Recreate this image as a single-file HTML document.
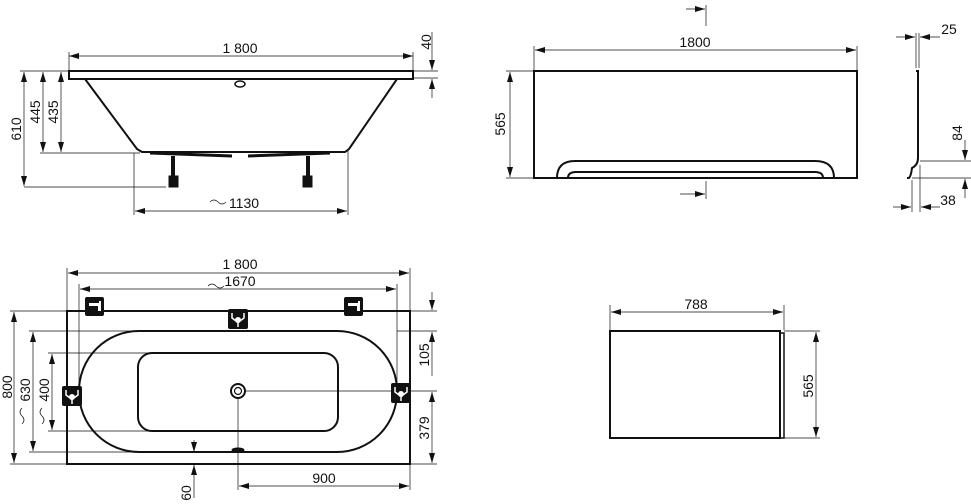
<!DOCTYPE html>
<html><head><meta charset="utf-8"><style>
html,body{margin:0;padding:0;background:#fff;}
svg{display:block}
text{font-family:"Liberation Sans Narrow","Liberation Sans",sans-serif;font-size:14px;fill:#111}
</style></head><body>
<svg width="971" height="504" viewBox="0 0 971 504" xmlns="http://www.w3.org/2000/svg">
<defs>
<marker id="a" viewBox="0 0 10 6" refX="10" refY="3" markerWidth="10" markerHeight="6" orient="auto-start-reverse" markerUnits="userSpaceOnUse"><path d="M0,0 L10,3 L0,6 z" fill="#111"/></marker>
<g id="tap"><rect x="0" y="0" width="19" height="19" rx="2" fill="#111"/><path d="M4,6 h10 v-2 h2 v10 h-3 v-5 h-9z" fill="#fff"/></g>
<g id="valve"><rect x="0" y="0" width="20" height="20" rx="2" fill="#111"/><path d="M4,4 v5 l4,3 M16,4 v5 l-4,3 M10,13 v5" stroke="#fff" stroke-width="1.5" fill="none"/><circle cx="10" cy="11" r="3" fill="#fff"/></g>
</defs>
<g stroke="#111" fill="none">
<rect x="69" y="71" width="344" height="8" stroke-width="2"/>
<path d="M85,79 L137,149 L142,152 L345,152 L349,149 L397,79" stroke-width="2"/>
<ellipse cx="240" cy="84" rx="5" ry="3" stroke-width="1.5"/>
<path d="M150,153 L232,156 M248,156 L330,153" stroke-width="3"/>
<path d="M173,156 v22 M308,156 v22" stroke-width="4"/>
<rect x="169" y="176" width="9" height="11" fill="#111"/><rect x="303" y="176" width="9" height="11" fill="#111"/>
<g stroke-width="0.7">
<path d="M69,52 V70 M413,52 V70"/>
<line x1="69" y1="56" x2="413" y2="56" marker-start="url(#a)" marker-end="url(#a)"/>
<path d="M20,71 H69 M40,153 H140 M24,187 H166"/>
<line x1="24" y1="72" x2="24" y2="186" marker-start="url(#a)" marker-end="url(#a)"/>
<line x1="43" y1="72" x2="43" y2="152" marker-start="url(#a)" marker-end="url(#a)"/>
<line x1="61" y1="72" x2="61" y2="152" marker-start="url(#a)" marker-end="url(#a)"/>
<path d="M134,153 V215 M348,150 V215"/>
<line x1="135" y1="211" x2="347" y2="211" marker-start="url(#a)" marker-end="url(#a)"/>
<path d="M413,71 H438 M413,78 H438"/>
<line x1="432" y1="32" x2="432" y2="70" marker-end="url(#a)"/>
<line x1="432" y1="98" x2="432" y2="79" marker-end="url(#a)"/>
<path d="M210,202 q4,-4 8,0 q4,4 8,0"/>
</g>
<rect x="534" y="71" width="323" height="107" stroke-width="2"/>
<path d="M557,178 Q557,161 575,161 H815 Q834,161 834,178" stroke-width="2"/>
<path d="M568,178 Q568,172 576,172 H815 Q823,172 823,178" stroke-width="2"/>
<g stroke-width="0.7">
<path d="M534,46 V70 M857,46 V70"/>
<line x1="535" y1="50" x2="856" y2="50" marker-start="url(#a)" marker-end="url(#a)"/>
<path d="M506,71 H534 M506,178 H534"/>
<line x1="510" y1="72" x2="510" y2="177" marker-start="url(#a)" marker-end="url(#a)"/>
<path d="M706,5 V26 M706,181 V199"/>
<line x1="686" y1="9" x2="705" y2="9" marker-end="url(#a)"/>
<line x1="680" y1="194" x2="705" y2="194" marker-end="url(#a)"/>
</g>
<path d="M916,71 H918 V158 Q918,165 912,168 Q911,176 909,178 L907,178" stroke-width="2"/>
<g stroke-width="0.7">
<path d="M916,33 V68 M919,33 V68"/>
<line x1="896" y1="37" x2="915" y2="37" marker-end="url(#a)"/>
<line x1="940" y1="37" x2="920" y2="37" marker-end="url(#a)"/>
<path d="M920,161 H971 M912,178 H971 M912,180 V212 M920,165 V212"/>
<line x1="965" y1="140" x2="965" y2="160" marker-end="url(#a)"/>
<line x1="965" y1="198" x2="965" y2="179" marker-end="url(#a)"/>
<line x1="893" y1="207" x2="911" y2="207" marker-end="url(#a)"/>
<line x1="940" y1="207" x2="921" y2="207" marker-end="url(#a)"/>
</g>
<rect x="67" y="311" width="343" height="153" stroke-width="2"/>
<rect x="79" y="331" width="318" height="121" rx="60" stroke-width="2"/>
<rect x="138" y="353" width="200" height="78" rx="14" stroke-width="2"/>
<circle cx="238" cy="391" r="7" stroke-width="2"/><circle cx="238" cy="391" r="3.5" stroke-width="1.2"/>
<ellipse cx="238" cy="450" rx="6" ry="2" fill="#111"/>
<g stroke-width="0.7">
<path d="M67,268 V311 M410,268 V311 M79,284 V390 M397,284 V390"/>
<line x1="68" y1="273" x2="409" y2="273" marker-start="url(#a)" marker-end="url(#a)"/>
<line x1="80" y1="289" x2="396" y2="289" marker-start="url(#a)" marker-end="url(#a)"/>
<path d="M10,311 H67 M29,331 H160 M48,353 H200 M29,452 H160 M48,431 H200 M10,464 H67"/>
<line x1="14" y1="312" x2="14" y2="463" marker-start="url(#a)" marker-end="url(#a)"/>
<line x1="33" y1="332" x2="33" y2="451" marker-start="url(#a)" marker-end="url(#a)"/>
<line x1="52" y1="354" x2="52" y2="430" marker-start="url(#a)" marker-end="url(#a)"/>
<path d="M410,311 H437 M397,331 H437 M245,391 H437 M410,464 H437"/>
<line x1="432" y1="292" x2="432" y2="310" marker-end="url(#a)"/>
<line x1="432" y1="376" x2="432" y2="332" marker-end="url(#a)"/>
<line x1="432" y1="392" x2="432" y2="463" marker-start="url(#a)" marker-end="url(#a)"/>
<path d="M238,398 V490 M410,464 V490"/>
<line x1="239" y1="486" x2="409" y2="486" marker-start="url(#a)" marker-end="url(#a)"/>
<line x1="194" y1="498" x2="194" y2="465" marker-end="url(#a)"/>
<line x1="194" y1="440" x2="194" y2="452" marker-end="url(#a)"/>
<path d="M208,286 q4,-4 8,0 q4,4 8,0"/>
<path d="M22,408 q-4,4 0,8 q4,4 0,8 M42,408 q-4,4 0,8 q4,4 0,8"/>
</g>
<rect x="610" y="331" width="170" height="107" stroke-width="2"/>
<rect x="780" y="333" width="4" height="105" stroke-width="1.5"/>
<g stroke-width="0.7">
<path d="M610,305 V330 M784,305 V330 M784,331 H820 M784,438 H820"/>
<line x1="611" y1="312" x2="783" y2="312" marker-start="url(#a)" marker-end="url(#a)"/>
<line x1="816" y1="332" x2="816" y2="437" marker-start="url(#a)" marker-end="url(#a)"/>
</g>
</g>
<use href="#tap" x="85" y="297"/><use href="#tap" x="344" y="297"/>
<use href="#valve" x="228" y="309"/><use href="#valve" x="62" y="386"/><use href="#valve" x="391" y="383"/>
<text x="240" y="53" text-anchor="middle">1 800</text>
<text x="244" y="208" text-anchor="middle">1130</text>
<text transform="translate(21,129) rotate(-90)" text-anchor="middle">610</text>
<text transform="translate(40,112) rotate(-90)" text-anchor="middle">445</text>
<text transform="translate(58,112) rotate(-90)" text-anchor="middle">435</text>
<text transform="translate(431,42) rotate(-90)" text-anchor="middle">40</text>
<text x="695" y="47" text-anchor="middle">1800</text>
<text transform="translate(505,124) rotate(-90)" text-anchor="middle">565</text>
<text x="949" y="34" text-anchor="middle">25</text>
<text transform="translate(962,133) rotate(-90)" text-anchor="middle">84</text>
<text x="948" y="205" text-anchor="middle">38</text>
<text x="240" y="269" text-anchor="middle">1 800</text>
<text x="240" y="286" text-anchor="middle">1670</text>
<text transform="translate(12,387) rotate(-90)" text-anchor="middle">800</text>
<text transform="translate(30,390) rotate(-90)" text-anchor="middle">630</text>
<text transform="translate(49,390) rotate(-90)" text-anchor="middle">400</text>
<text transform="translate(429,355) rotate(-90)" text-anchor="middle">105</text>
<text transform="translate(429,428) rotate(-90)" text-anchor="middle">379</text>
<text x="324" y="483" text-anchor="middle">900</text>
<text transform="translate(191,493) rotate(-90)" text-anchor="middle">60</text>
<text x="696" y="309" text-anchor="middle">788</text>
<text transform="translate(813,386) rotate(-90)" text-anchor="middle">565</text>
</svg>
</body></html>
